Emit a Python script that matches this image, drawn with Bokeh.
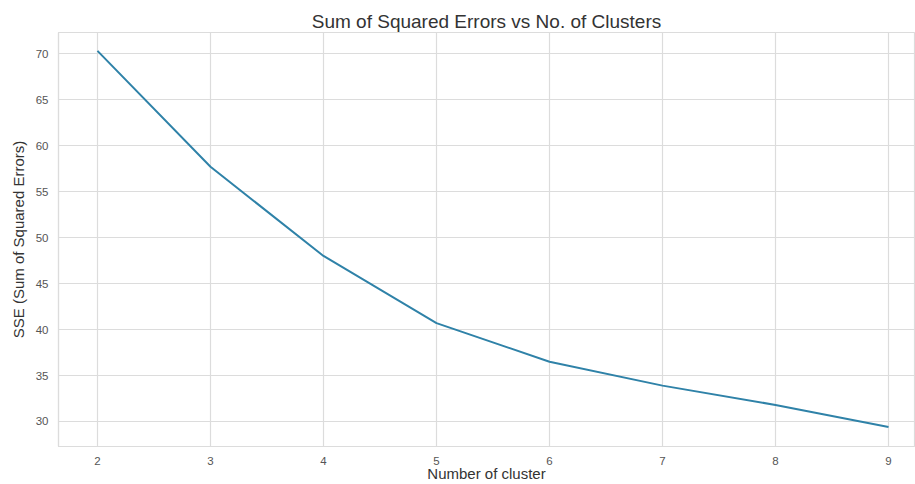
from bokeh.plotting import figure
from bokeh.models import FixedTicker, Range1d
from bokeh.embed import file_html
from bokeh.resources import INLINE

# Elbow curve: SSE per number of clusters
n_clusters = [2, 3, 4, 5, 6, 7, 8, 9]
sse = [70.3, 57.7, 48.0, 40.7, 36.5, 33.9, 31.8, 29.4]
y_ticks = [30, 35, 40, 45, 50, 55, 60, 65, 70]

FONT = "Liberation Sans"
GRID = "#dcdcdc"

p = figure(
    width=909, height=484,
    output_backend="svg", toolbar_location=None,
    x_range=Range1d(1.655, 9.23), y_range=Range1d(27.28, 72.3),
    min_border_left=0, min_border_right=1,
    min_border_top=32, min_border_bottom=0,
    title="Sum of Squared Errors vs No. of Clusters",
)
# small left gutter so the y-axis title sits a little in from the edge
p.margin = (0, 0, 0, 6)
p.background_fill_color = "white"
p.border_fill_color = "white"
p.outline_line_color = GRID
p.outline_line_width = 1.2

p.title.align = "center"
p.title.text_font = FONT
p.title.text_font_size = "19px"
p.title.text_font_style = "normal"
p.title.text_color = "#333333"
p.title.offset = 0
p.title.standoff = 2

p.line(n_clusters, sse, line_color="#2f82a8", line_width=2)

p.xaxis.ticker = FixedTicker(ticks=n_clusters)
p.yaxis.ticker = FixedTicker(ticks=y_ticks)
p.xaxis.axis_label = "Number of cluster"
p.yaxis.axis_label = "SSE (Sum of Squared Errors)"

for ax in (p.xaxis[0], p.yaxis[0]):
    ax.axis_line_color = GRID
    ax.axis_line_width = 1.2
    ax.major_tick_line_color = None
    ax.minor_tick_line_color = None
    ax.major_label_text_font = FONT
    ax.major_label_text_font_size = "11.5px"
    ax.major_label_text_color = "#555555"
    ax.axis_label_text_font = FONT
    ax.axis_label_text_font_size = "15px"
    ax.axis_label_text_font_style = "normal"
    ax.axis_label_text_color = "#333333"

p.yaxis.major_label_standoff = 4
p.yaxis.axis_label_standoff = 6
p.xaxis.major_label_standoff = 4
p.xaxis.axis_label_standoff = -3

p.grid.grid_line_color = GRID
p.grid.grid_line_width = 1.2

open("out.html", "w").write(file_html(p, INLINE))
